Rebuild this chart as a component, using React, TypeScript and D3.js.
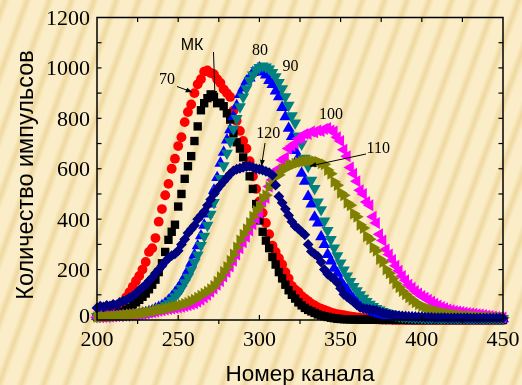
import React from 'react';
import * as d3 from 'd3';

const channels = d3.range(200, 451, 2);

const seriesMK = [
  12,14,13,16,18,20,24,27,33,40,
  48,60,70,80,92,105,122,140,160,190,
  225,270,318,350,378,450,500,560,610,650,
  710,768,832,860,880,895,885,860,862,848,
  820,795,740,705,680,645,610,570,520,460,
  395,350,315,285,250,220,190,165,140,118,
  100,85,70,58,48,40,34,28,22,18,
  15,12,9,7,5,4,3,3,2,2,
  2,1,2,1,1,1,1,1,0,1,
  0,1,0,0,1,0,0,0,0,0,
  0,0,0,0,0,0,0,0,0,0,
  0,0,0,0,0,0,0,0,0,0,
  0,0,0,0,0,0
];

const series70 = [
  15,17,19,22,27,34,42,55,70,90,
  110,132,155,175,200,230,270,285,325,390,
  440,495,540,600,640,690,725,785,825,855,
  900,935,955,985,990,980,975,955,940,915,
  900,885,830,790,750,710,680,630,570,520,
  470,425,385,340,295,270,245,220,190,165,
  135,120,110,95,85,75,65,58,50,45,
  40,35,30,26,23,21,19,16,14,12,
  10,9,7,6,5,4,3,3,2,2,
  2,1,1,1,1,0,1,0,0,0,
  0,0,0,0,0,0,0,0,0,0,
  0,0,0,0,0,0,0,0,0,0,
  0,0,0,0,0,0
];

const series80 = [
  15,14,16,15,17,17,18,17,19,18,
  20,21,22,24,27,29,33,37,44,50,
  57,66,78,92,108,126,146,170,196,226,
  258,294,334,376,420,460,515,565,622,665,
  714,755,807,850,894,920,947,960,982,990,
  1000,984,972,950,934,908,885,843,806,760,
  728,672,645,582,550,490,460,408,385,330,
  299,260,234,205,185,155,134,120,98,83,
  76,65,55,47,39,33,28,24,21,18,
  15,13,12,11,10,10,9,9,8,8,
  8,8,7,8,7,7,7,6,7,6,
  6,7,6,6,6,5,6,6,5,6,
  5,6,5,5,6,5
];

const series90 = [
  14,16,15,17,16,18,17,19,18,20,
  19,21,22,24,25,27,30,34,38,44,
  50,58,66,78,92,108,125,148,170,198,
  228,258,296,332,376,420,466,515,562,612,
  662,708,758,800,846,885,918,950,972,990,
  1002,1008,1004,996,982,965,942,918,886,852,
  810,782,730,698,642,610,555,522,468,438,
  393,355,320,286,255,226,199,175,153,133,
  116,100,86,74,63,54,46,40,34,29,
  25,22,19,16,14,13,12,11,10,10,
  9,9,8,8,9,8,7,8,8,7,
  8,7,7,8,7,7,6,7,7,6,
  7,6,6,7,6,6
];

const series100 = [
  11,12,12,13,14,15,16,17,18,19,
  20,21,22,23,25,27,29,31,34,37,
  39,42,44,46,48,50,52,55,58,62,
  66,72,80,90,100,112,125,140,155,172,
  190,212,235,260,285,308,330,355,380,402,
  425,470,485,530,555,590,600,635,645,680,
  690,700,720,722,738,738,748,745,752,750,
  758,762,752,748,725,710,675,650,605,580,
  550,515,500,468,455,410,385,340,315,280,
  260,238,215,195,175,158,140,128,115,105,
  95,88,80,72,65,58,52,47,42,39,
  36,34,32,30,28,26,25,23,22,20,
  18,16,14,12,11,10
];

const series110 = [
  12,13,14,14,15,16,17,18,19,20,
  22,23,25,26,28,30,32,35,38,41,
  42,45,48,51,54,57,60,64,68,74,
  80,88,96,104,112,122,135,152,170,190,
  210,235,260,288,315,338,360,385,410,432,
  450,482,495,528,540,568,575,598,600,615,
  615,620,625,628,630,632,632,630,628,622,
  618,595,580,548,535,505,495,465,455,422,
  410,378,365,332,320,288,275,242,230,200,
  185,165,145,130,115,102,90,80,70,62,
  55,50,45,41,37,33,30,27,25,23,
  21,19,18,17,16,15,14,13,12,12,
  11,10,10,9,9,9
];

const series120 = [
  48,55,52,58,56,62,60,70,75,80,
  88,95,105,118,128,140,155,168,185,200,
  215,232,245,255,262,275,300,320,345,360,
  375,400,415,430,455,478,500,520,535,550,
  565,580,592,598,602,605,608,610,606,600,
  598,595,590,585,575,535,490,465,440,415,
  390,372,362,350,338,300,272,262,252,230,
  200,182,172,162,148,125,102,92,82,72,
  60,50,46,44,42,40,38,32,28,25,
  22,20,18,16,15,14,13,12,12,11,
  11,10,10,10,9,9,9,9,8,8,
  8,8,8,8,8,7,7,7,7,7,
  7,7,7,7,7,7
];

const xTicks = [200, 250, 300, 350, 400, 450];
const yTicks = [0, 200, 400, 600, 800, 1000, 1200];

type Series = { name: string; values: number[]; color: string; shape: string; size: number; rotate: number };

const seriesList: Series[] = [
  { name: '70', values: series70, color: '#FF0000', shape: 'circle', size: 76, rotate: 0 },
  { name: 'MK', values: seriesMK, color: '#000000', shape: 'square', size: 70, rotate: 0 },
  { name: '80', values: series80, color: '#0000FF', shape: 'triangle', size: 62, rotate: 0 },
  { name: '90', values: series90, color: '#008080', shape: 'triangle', size: 62, rotate: 180 },
  { name: '100', values: series100, color: '#FF00FF', shape: 'triangle', size: 62, rotate: -90 },
  { name: '110', values: series110, color: '#808000', shape: 'triangle', size: 62, rotate: 90 },
  { name: '120', values: series120, color: '#000080', shape: 'square', size: 58, rotate: 45 },
];

const W = 522;
const H = 385;
const L = 97, R = 503, T = 17.5, B = 320;

export default function App() {
  const x = d3.scaleLinear().domain([200, 450]).range([L, R]);
  const y = d3.scaleLinear().domain([0, 1200]).range([B, T]);

  const symFor = (s: Series) => {
    const t = s.shape === 'circle' ? d3.symbolCircle : s.shape === 'square' ? d3.symbolSquare : d3.symbolTriangle;
    return d3.symbol().type(t).size(s.size)() as string;
  };

  const minorX = d3.range(200, 451, 25);
  const yHund = d3.range(0, 1201, 100);
  const serif = "'Liberation Serif', 'Times New Roman', serif";
  const sans = "'Liberation Sans', Arial, sans-serif";

  return (
    <div style={{ position: 'fixed', left: 0, top: 0, width: W, height: H }}>
      <svg width={W} height={H} viewBox={`0 0 ${W} ${H}`}>
        <defs>
          <linearGradient id="stripeGrad" x1="0" x2="1" y1="0" y2="0">
            <stop offset="0" stopColor="#F9EBC3" />
            <stop offset="0.5" stopColor="#EFD8A0" />
            <stop offset="1" stopColor="#F9EBC3" />
          </linearGradient>
          <pattern id="bg" width="21" height="21" patternUnits="userSpaceOnUse" patternTransform="rotate(20)">
            <rect width="21" height="21" fill="#FAEDC7" />
            <rect x="0" width="9" height="21" fill="url(#stripeGrad)" />
          </pattern>
          <marker id="arrow" viewBox="0 0 10 10" refX="9" refY="5" markerWidth="7" markerHeight="7" orient="auto-start-reverse" markerUnits="userSpaceOnUse">
            <path d="M0,1.5 L10,5 L0,8.5 Z" fill="#000" />
          </marker>
        </defs>
        <rect x={0} y={0} width={W} height={H} fill="url(#bg)" />

        {seriesList.map((s) => {
          const p = symFor(s);
          return (
            <g key={s.name} fill={s.color}>
              {s.values.map((v, i) => (
                <path key={i} d={p} transform={`translate(${x(channels[i])},${y(v)}) rotate(${s.rotate})`} />
              ))}
            </g>
          );
        })}

        {/* frame */}
        <rect x={L} y={T} width={R - L} height={B - T} fill="none" stroke="#000" strokeWidth={1.5} />

        {/* bottom ticks */}
        {minorX.map((v) => {
          const major = v % 50 === 0;
          if (v === 200 || v === 450) return null;
          return major ? (
            <line key={'bx' + v} x1={x(v)} x2={x(v)} y1={B} y2={B - 5} stroke="#000" strokeWidth={1.2} />
          ) : (
            <line key={'bx' + v} x1={x(v)} x2={x(v)} y1={B} y2={B + 4} stroke="#000" strokeWidth={1.2} />
          );
        })}
        {/* top ticks */}
        {minorX.map((v) => (v === 200 || v === 450 ? null : (
          <line key={'tx' + v} x1={x(v)} x2={x(v)} y1={T} y2={T + 4.5} stroke="#000" strokeWidth={1.2} />
        )))}
        {/* left and right ticks */}
        {yHund.map((v) => (v === 0 || v === 1200 ? null : (
          <g key={'y' + v}>
            <line x1={L} x2={L + 4.5} y1={y(v)} y2={y(v)} stroke="#000" strokeWidth={1.2} />
            <line x1={R} x2={R - 4.5} y1={y(v)} y2={y(v)} stroke="#000" strokeWidth={1.2} />
          </g>
        )))}

        {/* tick labels */}
        {xTicks.map((v) => (
          <text key={'xl' + v} x={x(v)} y={346} textAnchor="middle" fontFamily={serif} fontSize={22} fill="#000">{v}</text>
        ))}
        {yTicks.map((v) => (
          <text key={'yl' + v} x={90} y={v === 0 ? y(v) + 3 : y(v) + 7.5} textAnchor="end" fontFamily={serif} fontSize={22} fill="#000">{v}</text>
        ))}

        {/* axis titles */}
        <text x={300} y={381} textAnchor="middle" fontFamily={sans} fontSize={22.5} fill="#000">Номер канала</text>
        <text transform="translate(33,175) rotate(-90)" textAnchor="middle" fontFamily={sans} fontSize={23.5} fill="#000">Количество импульсов</text>

        {/* annotations */}
        <text x={192} y={50} textAnchor="middle" fontFamily={sans} fontSize={16} fill="#000">МК</text>
        <line x1={213.5} y1={52} x2={215} y2={97} stroke="#000" strokeWidth={1} markerEnd="url(#arrow)" />
        <text x={167} y={83.5} textAnchor="middle" fontFamily={serif} fontSize={16} fill="#000">70</text>
        <line x1={177} y1={86.5} x2={192} y2={92} stroke="#000" strokeWidth={1} markerEnd="url(#arrow)" />
        <text x={260} y={55} textAnchor="middle" fontFamily={serif} fontSize={16} fill="#000">80</text>
        <text x={290.5} y={70.7} textAnchor="middle" fontFamily={serif} fontSize={16} fill="#000">90</text>
        <text x={331} y={119} textAnchor="middle" fontFamily={serif} fontSize={16} fill="#000">100</text>
        <text x={378.3} y={153.3} textAnchor="middle" fontFamily={serif} fontSize={16} fill="#000">110</text>
        <line x1={366} y1={154} x2={310} y2={166} stroke="#000" strokeWidth={1} markerEnd="url(#arrow)" />
        <text x={268.3} y={138.3} textAnchor="middle" fontFamily={serif} fontSize={16} fill="#000">120</text>
        <line x1={265} y1={143} x2={261.5} y2={166} stroke="#000" strokeWidth={1} markerEnd="url(#arrow)" />
      </svg>
    </div>
  );
}
